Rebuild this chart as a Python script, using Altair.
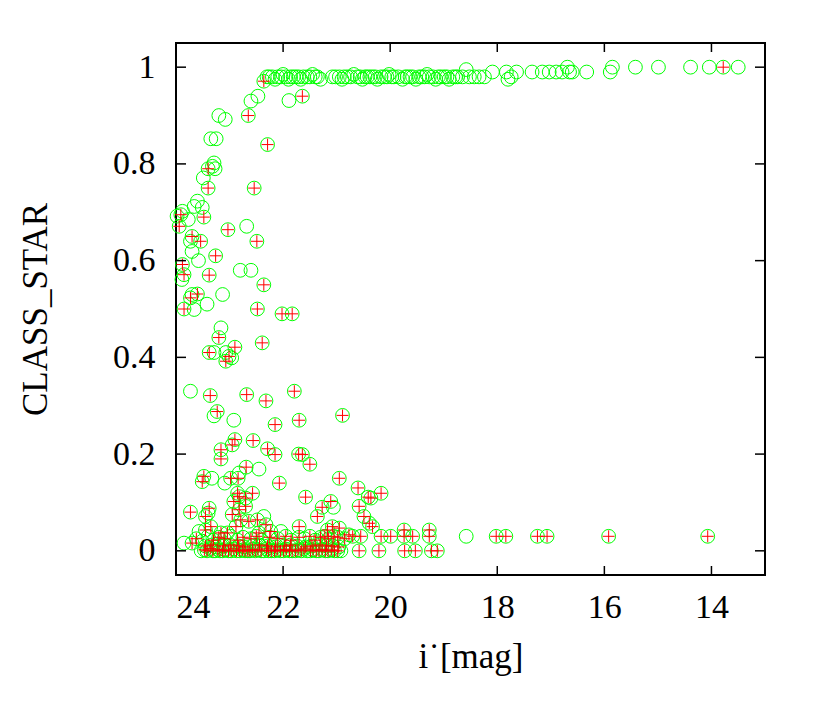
import altair as alt
import pandas as pd

# ---- stellar sequence (CLASS_STAR ~ 0.98) ----
star_mag = [22.30, 22.26, 22.20, 22.15, 22.10, 22.04, 22.00, 21.95, 21.90, 21.86, 21.81, 21.76,
            21.71, 21.67, 21.62, 21.55, 21.50, 21.45, 21.40, 21.36, 21.30, 21.08, 21.02, 20.95,
            20.90, 20.86, 20.80, 20.74, 20.68, 20.61, 20.56, 20.52, 20.47, 20.43, 20.38, 20.33,
            20.28, 20.24, 20.17, 20.11, 20.06, 20.02, 19.97, 19.93, 19.85, 19.77, 19.72, 19.68,
            19.63, 19.58, 19.52, 19.46, 19.41, 19.36, 19.31, 19.27, 19.20, 19.15, 19.10, 19.05,
            18.99, 18.94, 18.90, 18.83, 18.78, 18.74, 18.65, 18.58, 18.52, 18.43, 18.34, 18.24]
star_cls = [0.98, 0.98, 0.98, 0.975, 0.98, 0.98, 0.985, 0.98, 0.975, 0.98, 0.98, 0.98,
            0.98, 0.975, 0.98, 0.98, 0.98, 0.985, 0.98, 0.98, 0.975, 0.98, 0.98, 0.98,
            0.975, 0.98, 0.98, 0.98, 0.985, 0.98, 0.98, 0.975, 0.98, 0.98, 0.98, 0.98,
            0.98, 0.975, 0.98, 0.98, 0.98, 0.985, 0.98, 0.98, 0.98, 0.975, 0.98, 0.98,
            0.98, 0.98, 0.975, 0.98, 0.98, 0.98, 0.985, 0.98, 0.98, 0.975, 0.98, 0.98,
            0.98, 0.98, 0.975, 0.98, 0.98, 0.98, 0.98, 0.995, 0.98, 0.98, 0.98, 0.98]

# ---- bright stars ----
bright_mag = [18.09, 17.83, 17.80, 17.74, 17.64, 17.35, 17.16, 17.03, 16.90, 16.79, 16.69,
              16.65, 16.60, 16.33, 15.89, 15.85, 15.42, 14.99, 14.39, 14.04, 13.78, 13.50]
bright_cls = [0.99, 0.99, 0.975, 0.98, 0.99, 0.99, 0.99, 0.99, 0.99, 0.99, 1.0,
              0.99, 0.99, 0.99, 0.99, 1.0, 1.0, 1.0, 1.0, 1.0, 1.0, 1.0]
bright_flag = [0, 0, 0, 0, 0, 0, 0, 0, 0, 0, 0,
               0, 0, 0, 0, 0, 0, 0, 0, 0, 1, 0]

# ---- faint branch / intermediate objects ----
branch_mag = [22.36, 22.47, 22.60, 21.89, 21.64, 22.65, 23.20, 23.08, 23.35, 23.25,
              22.29, 23.29, 23.32, 23.40, 23.27, 23.49, 23.40, 22.54, 23.60, 23.66,
              23.51, 23.88, 23.98, 23.91, 23.48, 23.77, 23.94, 23.03, 22.68, 23.70,
              23.54, 23.73, 23.70, 22.49, 23.58, 23.26, 23.88, 23.85, 23.89, 23.38,
              22.80, 22.60, 22.36, 23.60, 23.73, 23.70, 23.13, 23.42, 23.85, 23.66,
              22.48, 22.02, 21.83, 23.16, 23.20, 22.39, 22.90, 23.38, 23.29, 23.07,
              23.01, 23.07, 22.96, 23.73, 23.36, 22.68, 22.32, 21.79, 23.23, 23.29,
              22.92, 22.15, 21.70, 20.89, 22.90, 22.95, 22.56, 23.16, 23.16, 22.29,
              22.15, 21.71, 21.64, 21.50, 22.69, 22.45, 23.48, 23.51, 23.33, 23.09,
              22.98, 22.84, 22.82, 22.07, 20.95, 20.60, 20.41, 20.17, 20.36, 21.58]
branch_cls = [0.971, 0.94, 0.93, 0.931, 0.94, 0.90, 0.90, 0.892, 0.852, 0.852,
              0.84, 0.802, 0.795, 0.79, 0.79, 0.771, 0.75, 0.75, 0.723, 0.712,
              0.71, 0.702, 0.692, 0.695, 0.69, 0.685, 0.671, 0.664, 0.671, 0.65,
              0.64, 0.64, 0.619, 0.64, 0.60, 0.61, 0.592, 0.571, 0.561, 0.57,
              0.58, 0.58, 0.55, 0.531, 0.523, 0.53, 0.53, 0.51, 0.50, 0.499,
              0.50, 0.49, 0.49, 0.461, 0.441, 0.43, 0.421, 0.41, 0.41, 0.41,
              0.402, 0.392, 0.399, 0.33, 0.321, 0.323, 0.31, 0.33, 0.288, 0.279,
              0.27, 0.261, 0.27, 0.28, 0.23, 0.219, 0.228, 0.209, 0.19, 0.211,
              0.199, 0.20, 0.199, 0.179, 0.173, 0.169, 0.154, 0.143, 0.15, 0.14,
              0.15, 0.15, 0.161, 0.14, 0.15, 0.13, 0.111, 0.119, 0.109, 0.111]
branch_flag = [1, 0, 0, 0, 1, 1, 0, 0, 0, 0,
               1, 0, 0, 1, 0, 0, 1, 1, 0, 0,
               0, 0, 0, 1, 1, 0, 1, 1, 0, 1,
               1, 0, 0, 1, 0, 1, 1, 1, 0, 1,
               0, 0, 1, 1, 1, 0, 0, 0, 1, 0,
               1, 1, 1, 0, 1, 1, 1, 1, 0, 0,
               1, 1, 0, 0, 1, 1, 1, 1, 1, 0,
               0, 1, 1, 1, 1, 1, 1, 1, 1, 1,
               1, 1, 1, 1, 1, 0, 1, 1, 0, 0,
               1, 1, 0, 1, 1, 1, 1, 1, 1, 1]

# ---- low CLASS_STAR scatter ----
low_mag = [22.85, 22.57, 22.70, 22.82, 22.92, 23.73, 23.38, 23.40, 21.27, 21.11,
           21.06, 21.36, 20.58, 20.49, 23.45, 22.95, 22.82, 22.70, 22.79, 22.64,
           22.48, 22.36, 21.70, 22.04, 22.23, 22.32, 22.45, 21.08, 21.17, 20.95,
           20.77, 20.39, 20.33, 23.45, 23.35, 23.57, 23.16, 23.04, 22.88, 23.70,
           23.85, 23.51, 19.74, 19.27]
low_cls = [0.119, 0.119, 0.109, 0.112, 0.102, 0.08, 0.088, 0.078, 0.09, 0.102,
           0.09, 0.071, 0.092, 0.071, 0.071, 0.075, 0.085, 0.092, 0.064, 0.061,
           0.064, 0.071, 0.05, 0.04, 0.04, 0.054, 0.037, 0.05, 0.043, 0.047,
           0.033, 0.057, 0.05, 0.043, 0.05, 0.04, 0.037, 0.037, 0.05, 0.016,
           0.016, 0.02, 0.043, 0.043]
low_flag = [1, 1, 1, 1, 1, 1, 1, 0, 1, 1,
            0, 1, 1, 1, 1, 1, 1, 1, 1, 1,
            1, 0, 1, 0, 1, 1, 1, 1, 1, 1,
            1, 1, 1, 1, 1, 0, 1, 1, 1, 1,
            0, 0, 1, 1]

# ---- row near 0.03 ----
row3_mag = [23.62, 23.40, 23.30, 23.20, 23.10, 22.98, 22.85, 22.75, 22.60, 22.50, 22.40, 22.25, 22.10,
            21.95, 21.85, 21.70, 21.60, 21.50, 21.40, 21.30, 21.22, 21.15, 21.05, 20.98, 20.85, 20.70,
            20.55, 20.17, 19.99, 19.74, 19.58, 19.27, 18.58, 18.02, 17.84, 17.25, 17.07, 15.92, 14.07]
row3_cls = [0.025, 0.03, 0.022, 0.028, 0.025, 0.03, 0.022, 0.028, 0.025, 0.03, 0.022, 0.028, 0.025,
            0.03, 0.022, 0.028, 0.025, 0.03, 0.022, 0.028, 0.03, 0.025, 0.03, 0.028, 0.025, 0.03,
            0.03, 0.03, 0.03, 0.03, 0.03, 0.03, 0.03, 0.03, 0.03, 0.03, 0.03, 0.03, 0.03]
row3_flag = [1, 0, 1, 1, 1, 0, 1, 1, 1, 1, 0, 1, 1,
             1, 1, 1, 0, 1, 1, 1, 1, 1, 1, 1, 1, 1,
             1, 1, 1, 1, 1, 1, 0, 1, 1, 1, 1, 1, 1]

# ---- row near 0.01 ----
row1_mag = [23.45, 23.33, 23.24, 23.11, 22.99, 22.83, 22.73, 22.58, 22.44, 22.29,
            22.14, 21.97, 21.86, 21.74, 21.58, 21.46, 21.31, 21.19, 21.07, 20.96]
row1_cls = [0.01, 0.012, 0.008, 0.01, 0.012, 0.01, 0.008, 0.01, 0.012, 0.01,
            0.008, 0.01, 0.012, 0.01, 0.008, 0.01, 0.012, 0.01, 0.01, 0.008]
row1_flag = [1, 1, 0, 1, 1, 1, 1, 0, 1, 1,
             1, 1, 1, 0, 1, 1, 1, 1, 1, 1]

# ---- row at 0 ----
row0_mag = [23.53, 23.47, 23.42, 23.36, 23.31, 23.27, 23.22, 23.18, 23.13, 23.08,
            23.02, 22.97, 22.92, 22.87, 22.81, 22.76, 22.71, 22.66, 22.62, 22.57,
            22.52, 22.47, 22.41, 22.36, 22.31, 22.27, 22.22, 22.16, 22.11, 22.05,
            21.99, 21.94, 21.88, 21.83, 21.77, 21.72, 21.66, 21.61, 21.55, 21.49,
            21.44, 21.38, 21.33, 21.27, 21.21, 21.16, 21.10, 21.04, 20.98, 20.92,
            20.58, 20.21, 19.73, 19.53, 19.23, 19.12]
row0_cls = [0.0, 0.002, 0.0, 0.005, 0.0, 0.0, 0.003, 0.0, 0.0, 0.002,
            0.0, 0.0, 0.004, 0.0, 0.0, 0.002, 0.0, 0.0, 0.0, 0.003,
            0.0, 0.002, 0.0, 0.0, 0.004, 0.0, 0.0, 0.0, 0.002, 0.0,
            0.0, 0.003, 0.0, 0.0, 0.0, 0.002, 0.0, 0.004, 0.0, 0.0,
            0.002, 0.0, 0.0, 0.003, 0.0, 0.0, 0.002, 0.0, 0.0, 0.0,
            0.0, 0.0, 0.0, 0.0, 0.0, 0.0]
row0_flag = [0, 1, 1, 1, 1, 0, 1, 1, 1, 1,
             1, 1, 1, 1, 1, 1, 1, 1, 1, 1,
             1, 1, 1, 0, 1, 1, 1, 1, 1, 1,
             1, 1, 1, 1, 1, 1, 1, 1, 0, 1,
             1, 1, 1, 1, 1, 1, 1, 1, 1, 0,
             1, 1, 1, 1, 1, 1]

x_ticks = [24, 22, 20, 18, 16, 14]
y_ticks = [0, 0.2, 0.4, 0.6, 0.8, 1]
X_MIN, X_MAX = 13, 24
Y_MIN, Y_MAX = -0.05, 1.05

groups = [
    (star_mag, star_cls, [0 for _ in star_mag]),
    (bright_mag, bright_cls, bright_flag),
    (branch_mag, branch_cls, branch_flag),
    (low_mag, low_cls, low_flag),
    (row3_mag, row3_cls, row3_flag),
    (row1_mag, row1_cls, row1_flag),
    (row0_mag, row0_cls, row0_flag),
]
frames = []
for m, c, f in groups:
    assert len(m) == len(c) == len(f), (len(m), len(c), len(f))
    frames.append(pd.DataFrame({"mag": m, "cls": c, "flag": f}))
df = pd.concat(frames, ignore_index=True)

FONT = "Times New Roman, Liberation Serif, Times, serif"
xscale = alt.Scale(domain=[X_MIN, X_MAX], reverse=True, nice=False, zero=False)
yscale = alt.Scale(domain=[Y_MIN, Y_MAX], nice=False, zero=False)

xenc = alt.X("mag:Q", scale=xscale,
             axis=alt.Axis(values=x_ticks, title="i˙[mag]", format="d",
                           labelPadding=15,
                           titleX=294.5, titleY=92, titleBaseline="alphabetic",
                           titleAlign="center"))
yenc = alt.Y("cls:Q", scale=yscale,
             axis=alt.Axis(values=y_ticks, title="CLASS_STAR", format="~g",
                           labelPadding=21,
                           titleX=-130, titleY=266, titleAngle=270,
                           titleBaseline="alphabetic", titleAlign="center"))

circles = alt.Chart(df).mark_point(
    shape="circle", filled=False, color="#00ff00", size=190, strokeWidth=1, opacity=1
).encode(x=xenc, y=yenc)

pluses = alt.Chart(df).transform_filter("datum.flag == 1").mark_point(
    shape="M-1,0L1,0M0,-1L0,1", filled=False, color="#ff0000", size=144,
    strokeWidth=1, opacity=1
).encode(x="mag:Q", y="cls:Q")

xt = pd.DataFrame({"mag": x_ticks})
yt = pd.DataFrame({"cls": y_ticks})
tick_style = dict(color="black", thickness=1.5, clip=True, opacity=1)
xt_bottom = alt.Chart(xt).mark_tick(orient="vertical", size=18, **tick_style).encode(
    x="mag:Q", y=alt.datum(Y_MIN))
xt_top = alt.Chart(xt).mark_tick(orient="vertical", size=18, **tick_style).encode(
    x="mag:Q", y=alt.datum(Y_MAX))
yt_left = alt.Chart(yt).mark_tick(orient="horizontal", size=20, **tick_style).encode(
    y="cls:Q", x=alt.datum(X_MAX))
yt_right = alt.Chart(yt).mark_tick(orient="horizontal", size=20, **tick_style).encode(
    y="cls:Q", x=alt.datum(X_MIN))

chart = alt.layer(circles, pluses, xt_bottom, xt_top, yt_left, yt_right).properties(
    width=589, height=532,
    autosize=alt.AutoSizeParams(type="none"),
    padding={"left": 168, "top": 35, "right": 57, "bottom": 140},
    background="white",
).configure_view(
    stroke="black", strokeWidth=2
).configure_axis(
    domain=False, ticks=False, grid=False,
    labelFont=FONT, labelFontSize=34, labelColor="black",
    titleFont=FONT, titleFontSize=35, titleFontWeight="normal", titleColor="black",
)

chart.save("out.html", embed_options={"renderer": "svg", "actions": False})
